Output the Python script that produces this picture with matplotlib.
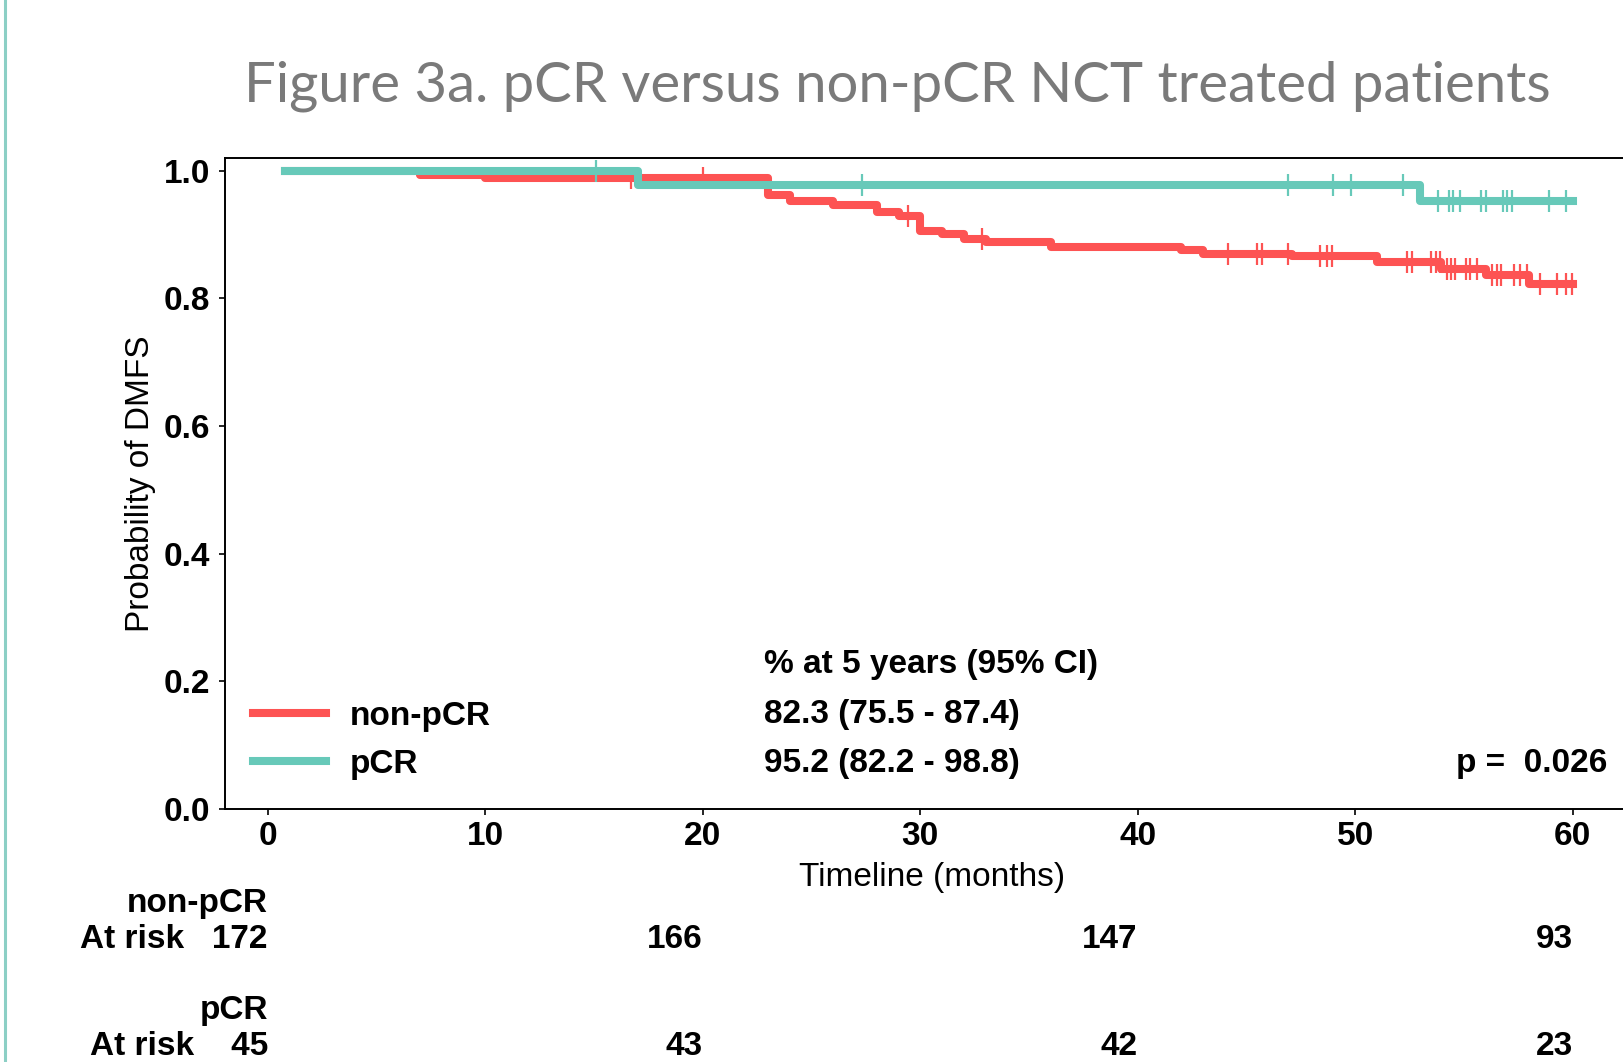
import matplotlib
matplotlib.use('Agg')
import matplotlib.pyplot as plt
import matplotlib.transforms as mtransforms
from matplotlib.lines import Line2D
import numpy as np

plt.rcParams['font.family'] = ['Liberation Sans', 'DejaVu Sans']

RED = '#fd5353'
TEAL = '#67c9b9'

# Kaplan-Meier steps (months, survival after the step)
nonpcr_times = [0.8, 7, 10, 23, 24, 26, 28, 29, 30, 31, 32, 33, 36, 42, 43, 47.1, 51, 53.95, 56, 58, 60]
nonpcr_surv = [1.0, 0.994, 0.988, 0.962, 0.952, 0.947, 0.935, 0.929, 0.906, 0.901, 0.893, 0.889,
               0.881, 0.876, 0.869, 0.866, 0.857, 0.846, 0.837, 0.823, 0.823]
nonpcr_censored = [16.7, 20, 29.45, 32.85, 44.15, 45.5, 45.7, 46.9, 48.4, 48.7, 48.95, 52.4, 52.6,
                   53.5, 53.7, 53.9, 54.2, 54.4, 54.6, 55.1, 55.3, 55.6, 56.3, 56.5, 56.7, 57.3,
                   57.6, 57.9, 58.5, 59.3, 59.7, 59.95]

pcr_times = [0.8, 17, 53, 60]
pcr_surv = [1.0, 0.977, 0.952, 0.952]
pcr_censored = [15.1, 27.3, 46.9, 49.0, 49.8, 52.2, 53.8, 54.3, 54.5, 54.8, 55.8, 56.0, 56.8,
                57.0, 57.2, 58.9, 59.7]

risk_times = [0, 20, 40, 60]
nonpcr_at_risk = [172, 166, 147, 93]
pcr_at_risk = [45, 43, 42, 23]

x_ticks = [0, 10, 20, 30, 40, 50, 60]
y_ticks = [0.0, 0.2, 0.4, 0.6, 0.8, 1.0]

title = 'Figure 3a. pCR versus non-pCR NCT treated patients'
summary_header = '% at 5 years (95% CI)'
summary_rows = ['82.3 (75.5 - 87.4)', '95.2 (82.2 - 98.8)']
p_text = 'p =  0.026'

groups = [
    ('non-pCR', nonpcr_times, nonpcr_surv, nonpcr_censored, nonpcr_at_risk, RED),
    ('pCR', pcr_times, pcr_surv, pcr_censored, pcr_at_risk, TEAL),
]

fig = plt.figure(figsize=(16.23, 10.62), dpi=100)
ax = fig.add_axes([0.1389, 0.2382, 0.8703, 0.6130])

for label, times, surv, censored, _, color in groups:
    ax.plot(times, surv, drawstyle='steps-post', color=color, lw=5.8,
            solid_joinstyle='round', label=label)
    idx = np.searchsorted(times, censored, side='right') - 1
    ax.plot(censored, np.array(surv)[idx], ls='none', marker='|', color=color,
            markersize=16, markeredgewidth=1.6)

ax.set_xlim(-1.95, 63)
ax.set_ylim(0, 1.02)
ax.set_xticks(x_ticks)
ax.set_yticks(y_ticks)
ax.set_xticklabels([str(t) for t in x_ticks], fontsize=24, fontweight='bold')
ax.set_yticklabels([f'{t:.1f}' for t in y_ticks], fontsize=24, fontweight='bold')
ax.tick_params(axis='x', length=4.3, width=1.2, pad=4)
ax.tick_params(axis='y', length=4.3, width=1.2, pad=6.5)
for side in ['left', 'bottom', 'top']:
    ax.spines[side].set_linewidth(1.4)
ax.spines['right'].set_visible(False)

ax.set_xlabel('Timeline (months)', fontsize=24)
ax.set_ylabel('Probability of DMFS', fontsize=24)
ax.xaxis.set_label_coords(0.5, -0.081)
ax.yaxis.set_label_coords(-0.049, 0.5)

ax.legend(loc='lower left', bbox_to_anchor=(0.0195, 0.0445), frameon=False, borderpad=0,
          borderaxespad=0, handlelength=2.2, handletextpad=0.7, labelspacing=0.52,
          prop={'size': 24, 'weight': 'bold'})

ax.text(22.8, 0.226, summary_header, fontsize=24, fontweight='bold', va='center')
ax.text(22.8, 0.148, summary_rows[0], fontsize=24, fontweight='bold', va='center')
ax.text(22.8, 0.071, summary_rows[1], fontsize=24, fontweight='bold', va='center')
ax.text(61.6, 0.071, p_text, fontsize=24, fontweight='bold', va='center', ha='right')

# at-risk table under the axis
trans = mtransforms.blended_transform_factory(ax.transData, fig.transFigure)
row_baselines = [(1 - 912 / 1062, 1 - 948 / 1062), (1 - 1019 / 1062, 1 - 1055 / 1062)]
for (label, _, _, _, at_risk, _), (y_name, y_num) in zip(groups, row_baselines):
    ax.text(risk_times[0], y_name, label, transform=trans, ha='right', va='baseline',
            fontsize=24, fontweight='bold', clip_on=False)
    for i, (t, n) in enumerate(zip(risk_times, at_risk)):
        s = f'At risk {n:>5}' if i == 0 else str(n)
        ax.text(t, y_num, s, transform=trans, ha='right', va='baseline',
                fontsize=24, fontweight='bold', clip_on=False)

fig.text(0.5527, 1 - 101 / 1062, title, ha='center', va='baseline', fontsize=40.5,
         color='#7a7a7a', family=['Lato', 'DejaVu Sans'])

# slide border on the left
fig.add_artist(Line2D([5 / 1623, 5 / 1623], [0, 1], color='#8ccfc5', lw=2.2))

fig.savefig('out.png', dpi=100)
